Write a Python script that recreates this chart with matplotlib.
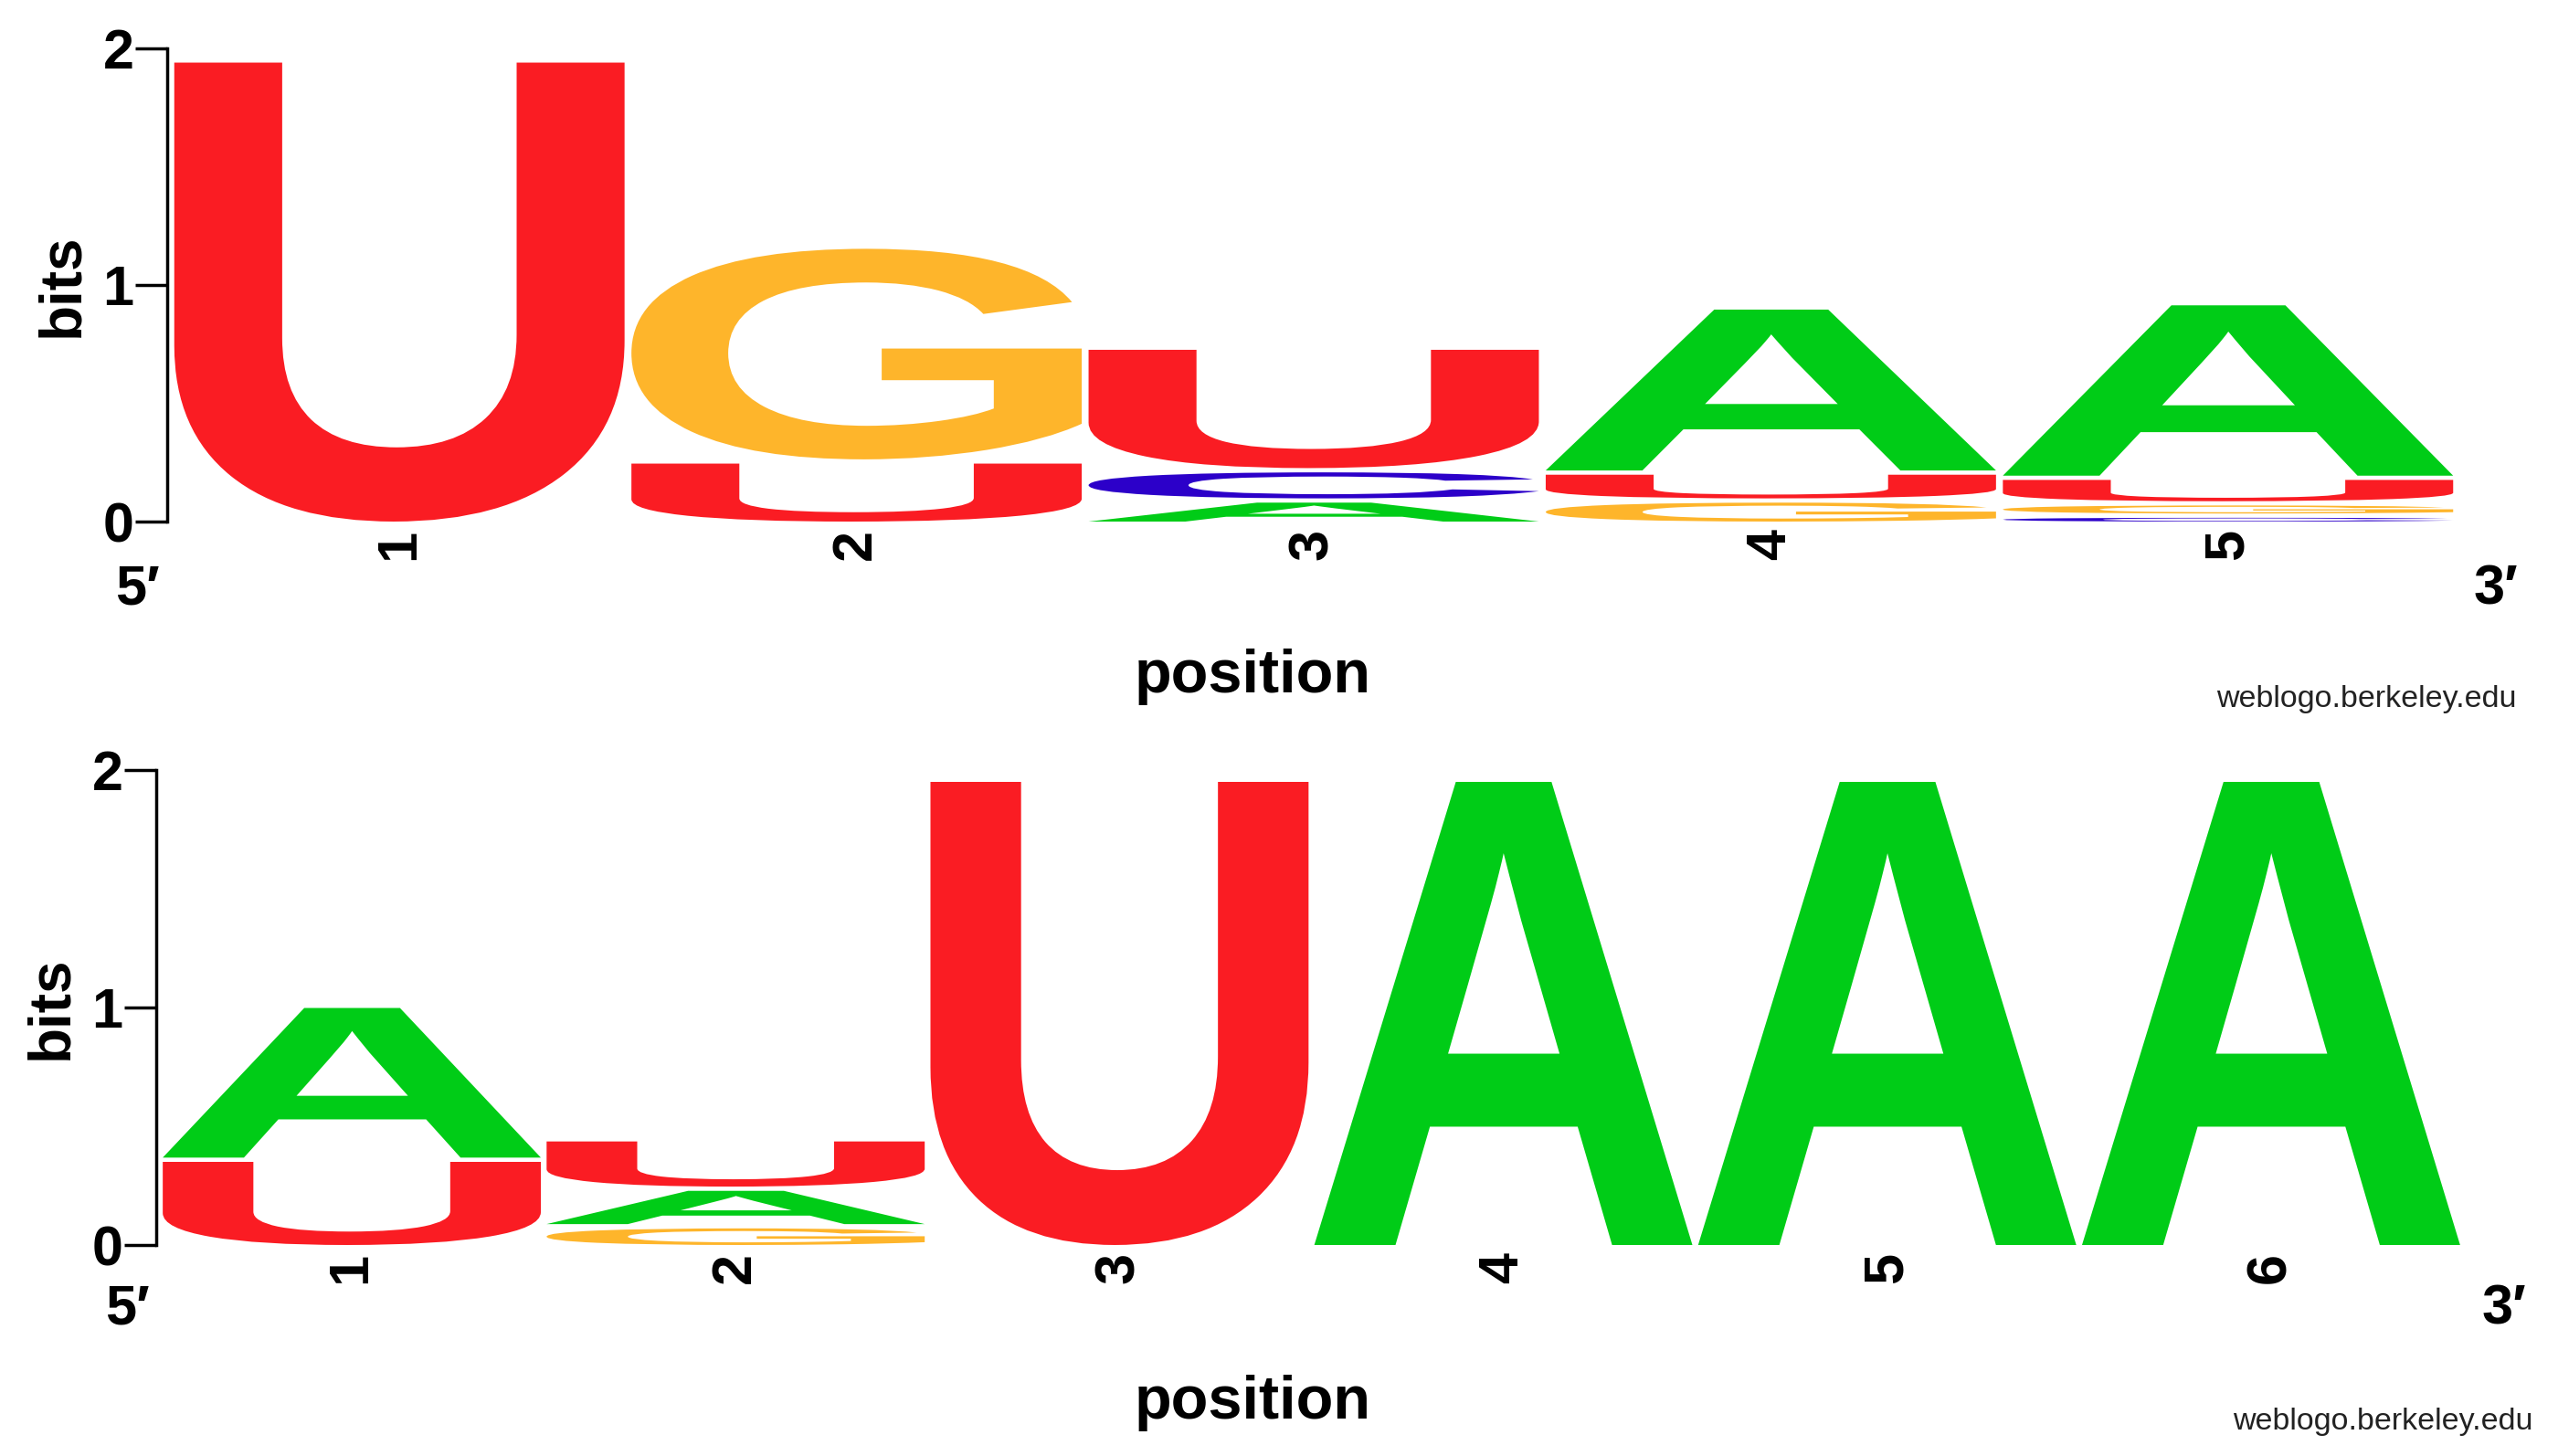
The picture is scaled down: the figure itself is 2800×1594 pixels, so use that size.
"""
RNA sequence logos (WebLogo style): two stacked panels of letter heights in bits.
"""

import matplotlib
matplotlib.use("Agg")
import matplotlib.pyplot as plt
from matplotlib.textpath import TextPath
from matplotlib.patches import PathPatch
from matplotlib.font_manager import FontProperties
from matplotlib.transforms import Affine2D

plt.rcParams["font.family"] = ["Liberation Sans", "DejaVu Sans"]

# ── Data (bits per letter at each position) ─────────────────────────────────
letters = ["A", "C", "G", "U"]

top_positions = ["1", "2", "3", "4", "5"]
top_A = [0.00, 0.00, 0.08, 0.68, 0.72]
top_C = [0.00, 0.00, 0.11, 0.00, 0.016]
top_G = [0.00, 0.89, 0.00, 0.08, 0.034]
top_U = [1.94, 0.245, 0.50, 0.10, 0.09]

bottom_positions = ["1", "2", "3", "4", "5", "6"]
bottom_A = [0.63, 0.14, 0.00, 1.95, 1.95, 1.95]
bottom_C = [0.00, 0.00, 0.00, 0.00, 0.00, 0.00]
bottom_G = [0.00, 0.07, 0.00, 0.00, 0.00, 0.00]
bottom_U = [0.35, 0.19, 1.95, 0.00, 0.00, 0.00]

letter_colors = {"A": "#00cc17", "C": "#2c00c9", "G": "#feb52b", "U": "#fa1c23"}

GLYPH_FONT = FontProperties(family="Liberation Sans", weight="bold")
STACK_GAP = 0.018    # bits of white space between stacked letters
COL_WIDTH = 0.985    # fraction of a position used by the glyph


def draw_glyph(ax, ch, x0, y0, w, h, color):
    """Stretch a bold glyph so its ink fills the box (x0, y0, w, h)."""
    tp = TextPath((0, 0), ch, size=1, prop=GLYPH_FONT)
    bb = tp.get_extents()
    tr = (Affine2D().translate(-bb.x0, -bb.y0)
          .scale(w / bb.width, h / bb.height)
          .translate(x0, y0))
    ax.add_patch(PathPatch(tr.transform_path(tp), fc=color, ec="none", lw=0))


def draw_logo(ax, positions, columns):
    for i, pos in enumerate(positions):
        heights = [(col[i], ch) for ch, col in zip(letters, columns) if col[i] > 0]
        heights.sort()
        y = 0.0
        for h, ch in heights:
            draw_glyph(ax, ch, i + 1 - COL_WIDTH / 2, y, COL_WIDTH, h,
                       letter_colors[ch])
            y += h + STACK_GAP

    ax.set_xlim(0.5, len(positions) + 0.5)
    ax.set_ylim(0, 2)
    for side in ("top", "right", "bottom"):
        ax.spines[side].set_visible(False)
    ax.spines["left"].set_linewidth(2.5)
    ax.spines["left"].set_position(("outward", 3))

    ax.set_yticks([0, 1, 2])
    ax.set_yticklabels(["0", "1", "2"], fontweight="bold")
    ax.tick_params(axis="y", length=25, width=2.5, pad=1, labelsize=44)
    ax.set_ylabel("bits", fontsize=46, fontweight="bold", labelpad=10)

    ax.set_xticks(range(1, len(positions) + 1))
    ax.set_xticklabels(positions, rotation=90, fontweight="bold",
                       va="top", ha="center")
    ax.tick_params(axis="x", length=0, pad=6, labelsize=44)


fig = plt.figure(figsize=(28, 15.94), dpi=100)
W, H = 2800, 1594

ax_top = fig.add_axes([187 / W, 1 - 571 / H, 2502 / W, 518 / H])
draw_logo(ax_top, top_positions, [top_A, top_C, top_G, top_U])

ax_bot = fig.add_axes([175 / W, 1 - 1363 / H, 2521 / W, 520 / H])
draw_logo(ax_bot, bottom_positions, [bottom_A, bottom_C, bottom_G, bottom_U])

# ── End labels, axis titles, credit ──────────────────────────────────────────
end_kw = dict(fontsize=44, fontweight="bold", ha="center", va="center")
fig.text(150 / W, 1 - 646 / H, "5\u2032", **end_kw)
fig.text(2732 / W, 1 - 646 / H, "3\u2032", **end_kw)
fig.text(139 / W, 1 - 1434 / H, "5\u2032", **end_kw)
fig.text(2741 / W, 1 - 1434 / H, "3\u2032", **end_kw)

fig.text(1371 / W, 1 - 741 / H, "position", fontsize=48, fontweight="bold",
         ha="center", va="center")
fig.text(1371 / W, 1 - 1536 / H, "position", fontsize=48, fontweight="bold",
         ha="center", va="center")

fig.text(2755 / W, 1 - 765 / H, "weblogo.berkeley.edu", fontsize=24.5,
         color="#222222", ha="right", va="center")
fig.text(2773 / W, 1 - 1557 / H, "weblogo.berkeley.edu", fontsize=24.5,
         color="#222222", ha="right", va="center")

fig.savefig("out.png", dpi=100, facecolor="white")
plt.close(fig)
